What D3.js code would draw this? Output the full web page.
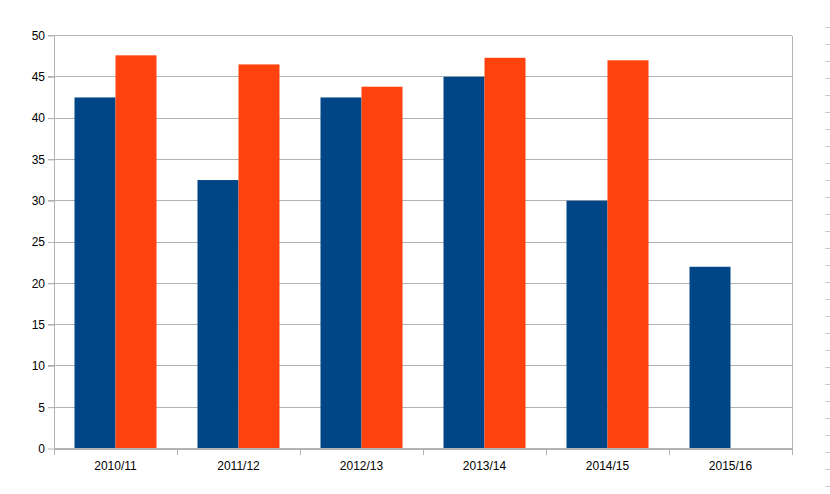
<!DOCTYPE html>
<html><head><meta charset="utf-8">
<script src="https://cdn.jsdelivr.net/npm/d3@7"></script>
<style>body{margin:0;background:#fff}svg{display:block}text{font-family:"Liberation Sans",Arial,sans-serif;font-size:12px;fill:#000}</style>
</head><body><div id="c"></div>
<script>
const categories = ["2010/11","2011/12","2012/13","2013/14","2014/15","2015/16"];
const seriesA = [42.5, 32.5, 42.5, 45, 30, 22];
const seriesB = [47.6, 46.5, 43.8, 47.3, 47, null];
const yTicks = [0,5,10,15,20,25,30,35,40,45,50];
const seriesNames = ["A","B"];
const colors = ["#004586","#ff420e"];

const W=830,H=494;
const m={l:54,r:38,t:35.5,b:45.5};
const svg=d3.select("#c").append("svg").attr("width",W).attr("height",H);
const x=d3.scaleBand().domain(categories).range([m.l,W-m.r]);
const y=d3.scaleLinear().domain([0,50]).range([H-m.b,m.t]);
const x1=d3.scaleBand().domain(seriesNames).range([0,x.bandwidth()]).paddingOuter(0.5).paddingInner(0);
const grid="#b3b3b3";

// gridlines
svg.append("g").selectAll("line").data(yTicks.filter(d=>d>0)).join("line")
 .attr("x1",m.l-6).attr("x2",W-m.r).attr("y1",d=>y(d)).attr("y2",d=>y(d))
 .attr("stroke",grid).attr("stroke-width",1).attr("shape-rendering","crispEdges");

// bars
const data=categories.map((c,i)=>({c,vals:[seriesA[i],seriesB[i]]}));
const g=svg.append("g");
data.forEach(d=>{
 d.vals.forEach((v,j)=>{
  if(v==null) return;
  g.append("rect").attr("x",x(d.c)+x1(seriesNames[j])).attr("width",x1.bandwidth())
   .attr("y",y(v)).attr("height",y(0)-y(v)).attr("fill",colors[j]);
 });
});

// left axis
const ya=svg.append("g").attr("transform",`translate(${m.l},0)`)
 .call(d3.axisLeft(y).tickValues(yTicks).tickSize(6).tickPadding(3));
ya.select(".domain").remove();
ya.selectAll(".tick line").attr("stroke",grid);
ya.selectAll(".tick text").style("font-size","12px");
svg.append("line").attr("x1",m.l).attr("x2",m.l).attr("y1",m.t).attr("y2",H-m.b+6).attr("stroke",grid).attr("shape-rendering","crispEdges");
svg.append("line").attr("x1",W-m.r).attr("x2",W-m.r).attr("y1",m.t).attr("y2",H-m.b+6).attr("stroke",grid).attr("shape-rendering","crispEdges");

// bottom axis
svg.append("line").attr("x1",m.l).attr("x2",W-m.r).attr("y1",y(0)+0.5).attr("y2",y(0)+0.5).attr("stroke",grid).attr("stroke-width",2);
svg.append("g").selectAll("line").data(categories).join("line")
 .attr("x1",d=>x(d)).attr("x2",d=>x(d)).attr("y1",y(0)).attr("y2",y(0)+6)
 .attr("stroke",grid).attr("shape-rendering","crispEdges");
svg.append("g").selectAll("text").data(categories).join("text")
 .attr("x",d=>x(d)+x.bandwidth()/2).attr("y",470).attr("text-anchor","middle").text(d=>d);

// right-edge dashes
svg.append("g").selectAll("line").data(d3.range(28)).join("line")
 .attr("x1",825).attr("x2",830).attr("y1",d=>Math.round(26.7+d*17.01)+0.5).attr("y2",d=>Math.round(26.7+d*17.01)+0.5)
 .attr("stroke","#c8c8c8");
</script></body></html>
